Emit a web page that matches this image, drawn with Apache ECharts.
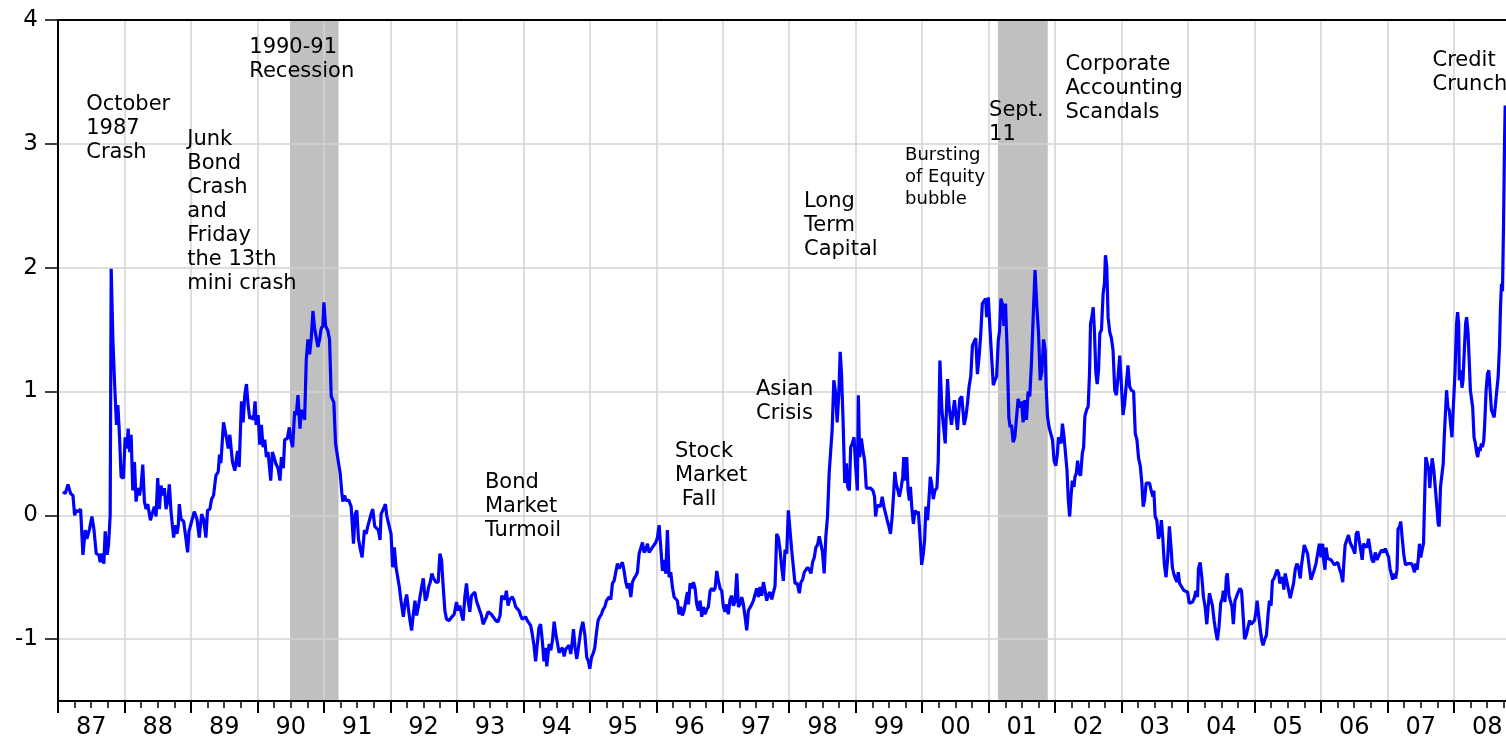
<!DOCTYPE html>
<html>
<head>
<meta charset="utf-8">
<script src="https://cdn.jsdelivr.net/npm/echarts@6/dist/echarts.min.js"></script>
<style>html,body{margin:0;padding:0;background:#fff;}#chart{width:1506px;height:740px;}</style>
</head>
<body>
<div id="chart"></div>
<script>
// Decimal-year dates of the readings
const years = [
1987.075,1987.110,1987.150,1987.190,1987.225,1987.250,1987.275,1987.310,1987.340,1987.375,1987.410,1987.435,1987.475,1987.510,1987.540,1987.575,1987.615,1987.635,1987.660,1987.690,1987.710,1987.740,1987.760,1987.785,1987.800,1987.825,1987.850,1987.880,1987.900,1987.920,1987.950,1987.985,
1988.010,1988.040,1988.055,1988.080,1988.100,1988.125,1988.150,1988.175,1988.200,1988.225,1988.250,1988.275,1988.300,1988.325,1988.350,1988.390,1988.415,1988.450,1988.475,1988.500,1988.525,1988.550,1988.575,1988.600,1988.625,1988.650,1988.675,1988.700,1988.740,1988.765,1988.790,1988.810,1988.825,1988.850,1988.890,1988.925,1988.950,1988.970,
1989.010,1989.050,1989.090,1989.125,1989.160,1989.190,1989.225,1989.250,1989.285,1989.310,1989.340,1989.375,1989.410,1989.430,1989.450,1989.490,1989.515,1989.540,1989.560,1989.585,1989.625,1989.660,1989.700,1989.725,1989.760,1989.785,1989.810,1989.835,1989.860,1989.885,1989.915,1989.940,1989.965,1989.980,
1990.010,1990.035,1990.060,1990.085,1990.110,1990.135,1990.160,1990.200,1990.225,1990.250,1990.275,1990.310,1990.340,1990.360,1990.390,1990.410,1990.450,1990.480,1990.500,1990.530,1990.560,1990.585,1990.610,1990.640,1990.660,1990.685,1990.710,1990.735,1990.760,1990.785,1990.810,1990.835,1990.860,1990.885,1990.910,1990.935,1990.960,1990.985,
1991.000,1991.025,1991.060,1991.085,1991.110,1991.135,1991.150,1991.175,1991.195,1991.225,1991.245,1991.270,1991.285,1991.310,1991.335,1991.375,1991.410,1991.445,1991.470,1991.495,1991.520,1991.550,1991.575,1991.610,1991.635,1991.660,1991.685,1991.710,1991.735,1991.765,1991.795,1991.820,1991.845,1991.860,1991.885,1991.910,1991.925,1991.945,1991.965,1991.985,
1992.010,1992.035,1992.060,1992.085,1992.110,1992.135,1992.160,1992.195,1992.225,1992.245,1992.275,1992.295,1992.320,1992.345,1992.370,1992.395,1992.420,1992.445,1992.470,1992.495,1992.525,1992.550,1992.575,1992.600,1992.625,1992.650,1992.685,1992.720,1992.745,1992.770,1992.795,1992.820,1992.845,1992.885,1992.925,1992.960,1992.995,
1993.020,1993.045,1993.070,1993.095,1993.120,1993.145,1993.170,1993.195,1993.220,1993.245,1993.270,1993.295,1993.320,1993.345,1993.370,1993.395,1993.420,1993.445,1993.470,1993.495,1993.520,1993.545,1993.585,1993.620,1993.650,1993.675,1993.700,1993.725,1993.745,1993.770,1993.795,1993.835,1993.860,1993.885,1993.910,1993.935,1993.960,1993.985,
1994.010,1994.035,1994.060,1994.085,1994.110,1994.135,1994.160,1994.185,1994.210,1994.235,1994.260,1994.285,1994.310,1994.335,1994.353,1994.388,1994.414,1994.439,1994.464,1994.489,1994.514,1994.539,1994.564,1994.589,1994.614,1994.639,1994.664,1994.689,1994.714,1994.739,1994.754,1994.779,1994.805,1994.830,1994.865,1994.895,1994.925,1994.955,1994.980,
1995.000,1995.025,1995.055,1995.075,1995.100,1995.125,1995.150,1995.175,1995.200,1995.226,1995.251,1995.276,1995.291,1995.316,1995.341,1995.366,1995.391,1995.416,1995.441,1995.466,1995.491,1995.516,1995.541,1995.566,1995.591,1995.617,1995.642,1995.667,1995.692,1995.717,1995.742,1995.767,1995.792,1995.817,1995.842,1995.867,1995.892,1995.917,1995.942,1995.967,1995.992,
1996.018,1996.043,1996.068,1996.093,1996.118,1996.143,1996.168,1996.193,1996.218,1996.243,1996.268,1996.293,1996.318,1996.343,1996.368,1996.393,1996.419,1996.444,1996.469,1996.484,1996.509,1996.534,1996.559,1996.584,1996.609,1996.634,1996.659,1996.684,1996.709,1996.734,1996.759,1996.784,1996.810,1996.835,1996.860,1996.885,1996.910,1996.935,1996.960,1996.985,
1997.010,1997.035,1997.060,1997.085,1997.110,1997.135,1997.160,1997.185,1997.211,1997.236,1997.261,1997.286,1997.311,1997.336,1997.361,1997.386,1997.411,1997.436,1997.461,1997.486,1997.511,1997.536,1997.561,1997.586,1997.612,1997.637,1997.662,1997.687,1997.712,1997.737,1997.762,1997.787,1997.812,1997.837,1997.862,1997.887,1997.912,1997.937,1997.962,1997.987,
1998.037,1998.062,1998.087,1998.122,1998.152,1998.177,1998.202,1998.227,1998.252,1998.277,1998.302,1998.327,1998.352,1998.377,1998.401,1998.426,1998.451,1998.476,1998.501,1998.526,1998.551,1998.576,1998.601,1998.626,1998.646,1998.671,1998.696,1998.721,1998.746,1998.767,1998.787,1998.810,1998.835,1998.860,1998.880,1998.905,1998.925,1998.950,1998.975,
1999.000,1999.025,1999.040,1999.060,1999.085,1999.110,1999.135,1999.160,1999.185,1999.219,1999.259,1999.284,1999.299,1999.324,1999.349,1999.374,1999.399,1999.424,1999.449,1999.474,1999.499,1999.524,1999.549,1999.574,1999.589,1999.608,1999.633,1999.658,1999.683,1999.708,1999.723,1999.748,1999.768,1999.788,1999.808,1999.823,1999.848,1999.868,1999.893,1999.918,1999.943,1999.968,1999.993,
2000.017,2000.037,2000.057,2000.082,2000.107,2000.122,2000.142,2000.167,2000.192,2000.222,2000.242,2000.267,2000.297,2000.322,2000.347,2000.382,2000.406,2000.441,2000.466,2000.486,2000.506,2000.531,2000.566,2000.596,2000.631,2000.656,2000.681,2000.706,2000.731,2000.756,2000.781,2000.806,2000.831,2000.856,2000.880,2000.905,2000.930,2000.955,2000.970,2000.995,
2001.020,2001.045,2001.070,2001.095,2001.120,2001.145,2001.165,2001.185,2001.209,2001.229,2001.254,2001.279,2001.304,2001.324,2001.344,2001.369,2001.394,2001.419,2001.444,2001.469,2001.494,2001.519,2001.544,2001.569,2001.594,2001.619,2001.643,2001.668,2001.698,2001.726,2001.751,2001.776,2001.801,2001.826,2001.851,2001.865,2001.885,2001.910,2001.940,2001.960,2001.985,
2002.010,2002.035,2002.050,2002.075,2002.090,2002.110,2002.135,2002.159,2002.179,2002.199,2002.219,2002.239,2002.259,2002.284,2002.299,2002.319,2002.339,2002.359,2002.384,2002.409,2002.429,2002.448,2002.473,2002.498,2002.518,2002.533,2002.553,2002.573,2002.593,2002.613,2002.633,2002.653,2002.673,2002.698,2002.722,2002.742,2002.757,2002.777,2002.797,2002.822,2002.847,2002.872,2002.897,2002.922,2002.947,2002.972,2002.997,
2003.021,2003.046,2003.071,2003.096,2003.121,2003.146,2003.181,2003.206,2003.231,2003.256,2003.281,2003.305,2003.325,2003.345,2003.370,2003.395,2003.420,2003.445,2003.470,2003.485,2003.505,2003.530,2003.555,2003.579,2003.599,2003.619,2003.644,2003.669,2003.694,2003.719,2003.744,2003.764,2003.784,2003.809,2003.834,2003.853,2003.873,2003.893,2003.918,2003.943,2003.968,2003.993,
2004.018,2004.043,2004.068,2004.093,2004.118,2004.142,2004.157,2004.182,2004.207,2004.232,2004.257,2004.282,2004.302,2004.322,2004.342,2004.367,2004.392,2004.417,2004.441,2004.466,2004.491,2004.516,2004.531,2004.556,2004.576,2004.591,2004.616,2004.641,2004.661,2004.681,2004.706,2004.730,2004.755,2004.780,2004.805,2004.830,2004.850,2004.875,2004.900,2004.925,2004.950,2004.975,
2005.000,2005.024,2005.039,2005.064,2005.089,2005.109,2005.129,2005.154,2005.179,2005.204,2005.224,2005.249,2005.269,2005.294,2005.319,2005.339,2005.364,2005.379,2005.421,2005.441,2005.461,2005.486,2005.511,2005.537,2005.562,2005.587,2005.612,2005.637,2005.662,2005.688,2005.703,2005.723,2005.748,2005.773,2005.798,2005.824,2005.849,2005.874,2005.899,2005.924,2005.950,2005.975,
2006.000,2006.025,2006.040,2006.060,2006.076,2006.101,2006.126,2006.151,2006.176,2006.202,2006.227,2006.252,2006.277,2006.302,2006.327,2006.343,2006.363,2006.388,2006.413,2006.438,2006.463,2006.489,2006.509,2006.529,2006.554,2006.579,2006.605,2006.620,2006.640,2006.665,2006.690,2006.715,2006.741,2006.766,2006.791,2006.816,2006.841,2006.866,2006.892,2006.917,2006.942,2006.967,2006.992,
2007.018,2007.038,2007.058,2007.078,2007.098,2007.123,2007.144,2007.159,2007.184,2007.199,2007.219,2007.244,2007.270,2007.290,2007.315,2007.340,2007.365,2007.385,2007.406,2007.426,2007.446,2007.466,2007.481,2007.501,2007.521,2007.542,2007.562,2007.577,2007.602,2007.622,2007.637,2007.652,2007.673,2007.698,2007.723,2007.743,2007.763,2007.778,2007.798,2007.819,2007.839,2007.854,2007.874,2007.889,2007.909,2007.929,2007.950,2007.970,2007.990,
2008.015,2008.040,2008.055,2008.071,2008.081,2008.101,2008.121,2008.136,2008.156,2008.176,2008.191,2008.212,2008.232,2008.247,2008.267,2008.282,2008.302,2008.322,2008.343,2008.358,2008.378,2008.393,2008.413,2008.428,2008.448,2008.463,2008.484,2008.504,2008.524,2008.544,2008.564,2008.584,2008.605,2008.620,2008.645,2008.665,2008.685,2008.700,2008.715,2008.730,2008.746,2008.761,2008.771
];
// Financial stress index readings
const stress = [
0.19,0.175,0.25,0.175,0.16,0.0,0.04,0.03,0.05,-0.32,-0.12,-0.19,-0.11,-0.01,-0.11,-0.31,-0.32,-0.38,-0.31,-0.39,-0.13,-0.32,-0.24,0.0,1.99,1.43,1.08,0.73,0.89,0.70,0.31,0.30,
0.63,0.54,0.70,0.51,0.65,0.20,0.43,0.11,0.22,0.16,0.23,0.41,0.11,0.05,0.09,-0.04,0.01,0.07,-0.01,0.30,0.05,0.24,0.16,0.22,0.05,0.11,0.25,0.03,-0.18,-0.08,-0.15,-0.08,0.09,-0.03,-0.05,-0.19,-0.30,-0.13,
-0.05,0.03,-0.03,-0.18,0.01,-0.03,-0.18,0.04,0.05,0.13,0.16,0.32,0.35,0.49,0.42,0.75,0.74,0.61,0.54,0.65,0.43,0.36,0.52,0.39,0.92,0.75,0.97,1.06,0.89,0.78,0.80,0.77,0.92,0.73,
0.81,0.57,0.73,0.55,0.61,0.47,0.51,0.28,0.51,0.47,0.42,0.38,0.28,0.47,0.38,0.61,0.62,0.71,0.62,0.55,0.84,0.81,0.97,0.70,0.85,0.82,0.77,1.26,1.42,1.30,1.43,1.65,1.51,1.50,1.36,1.42,1.51,1.53,
1.72,1.53,1.49,1.42,0.96,0.97,0.91,0.58,0.51,0.50,0.34,0.18,0.11,0.16,0.12,0.12,0.07,-0.23,0.01,0.04,-0.19,-0.28,-0.34,-0.12,-0.15,-0.09,-0.04,0.01,0.05,-0.09,-0.08,-0.12,-0.20,0.01,0.04,0.07,0.09,0.0,-0.05,-0.04,
-0.15,-0.42,-0.26,-0.42,-0.43,-0.58,-0.69,-0.82,-0.69,-0.64,-0.77,-0.85,-0.93,-0.80,-0.69,-0.81,-0.74,-0.73,-0.58,-0.51,-0.69,-0.66,-0.58,-0.54,-0.47,-0.51,-0.54,-0.54,-0.31,-0.36,-0.58,-0.77,-0.84,-0.85,-0.82,-0.80,-0.70,
-0.77,-0.73,-0.80,-0.85,-0.66,-0.55,-0.69,-0.78,-0.65,-0.65,-0.62,-0.69,-0.73,-0.72,-0.81,-0.88,-0.89,-0.82,-0.78,-0.77,-0.80,-0.82,-0.85,-0.86,-0.81,-0.65,-0.66,-0.68,-0.61,-0.73,-0.68,-0.66,-0.69,-0.74,-0.73,-0.77,-0.81,-0.84,
-0.84,-0.82,-0.85,-0.84,-0.89,-0.96,-1.05,-1.18,-1.04,-0.91,-0.88,-1.01,-1.18,-1.07,-1.22,-1.04,-1.09,-1.01,-0.86,-0.96,-0.97,-1.11,-1.12,-1.07,-1.14,-1.08,-1.09,-1.05,-1.12,-1.01,-0.92,-1.07,-1.16,-1.15,-0.93,-0.86,-0.96,-1.15,-1.18,
-1.24,-1.15,-1.11,-1.07,-0.95,-0.85,-0.82,-0.80,-0.76,-0.74,-0.69,-0.69,-0.66,-0.68,-0.55,-0.53,-0.46,-0.39,-0.43,-0.42,-0.38,-0.45,-0.54,-0.59,-0.55,-0.66,-0.54,-0.51,-0.49,-0.46,-0.31,-0.30,-0.22,-0.30,-0.28,-0.23,-0.30,-0.28,-0.26,-0.24,-0.22,
-0.18,-0.08,-0.26,-0.45,-0.36,-0.47,-0.12,-0.50,-0.46,-0.58,-0.66,-0.65,-0.69,-0.80,-0.74,-0.81,-0.77,-0.69,-0.62,-0.72,-0.55,-0.59,-0.54,-0.59,-0.72,-0.77,-0.69,-0.82,-0.74,-0.80,-0.76,-0.74,-0.61,-0.59,-0.61,-0.59,-0.45,-0.53,-0.59,-0.61,
-0.74,-0.78,-0.72,-0.80,-0.68,-0.65,-0.73,-0.70,-0.47,-0.74,-0.72,-0.66,-0.72,-0.82,-0.93,-0.77,-0.77,-0.72,-0.69,-0.68,-0.59,-0.66,-0.58,-0.65,-0.54,-0.61,-0.69,-0.64,-0.62,-0.68,-0.68,-0.57,-0.15,-0.18,-0.28,-0.42,-0.53,-0.28,-0.31,0.04,
-0.28,-0.27,-0.55,-0.55,-0.63,-0.54,-0.52,-0.46,-0.46,-0.42,-0.44,-0.47,-0.38,-0.34,-0.26,-0.24,-0.17,-0.23,-0.30,-0.47,-0.17,-0.01,0.34,0.34,0.69,1.09,1.00,0.75,0.98,1.32,1.14,0.77,0.26,0.42,0.23,0.20,0.55,0.58,0.63,
0.39,0.20,0.97,0.47,0.62,0.52,0.44,0.22,0.23,0.22,0.20,0.15,-0.01,0.08,0.07,0.07,0.15,0.07,0.08,-0.04,-0.09,-0.15,-0.01,0.20,0.35,0.26,0.26,0.15,0.22,0.31,0.47,0.28,0.47,0.20,0.12,0.23,0.04,-0.07,0.04,0.01,0.03,-0.17,-0.40,
-0.31,-0.20,0.07,-0.04,0.17,0.31,0.26,0.13,0.20,0.22,0.44,1.25,0.85,0.86,0.58,1.10,0.87,0.73,0.74,0.93,0.82,0.69,0.94,0.96,0.73,0.79,0.90,1.04,1.12,1.37,1.37,1.43,1.14,1.28,1.45,1.71,1.71,1.75,1.60,1.76,
1.51,1.28,1.05,1.09,1.12,1.41,1.49,1.75,1.70,1.53,1.71,1.33,0.79,0.71,0.73,0.59,0.63,0.63,0.94,0.87,0.92,0.75,0.93,0.77,1.00,0.96,1.22,1.57,1.98,1.68,1.47,1.09,1.16,1.42,1.33,1.04,0.80,0.71,0.70,0.61,0.44,
0.40,0.50,0.63,0.63,0.58,0.74,0.63,0.63,0.36,0.12,-0.01,0.15,0.28,0.23,0.31,0.34,0.44,0.34,0.32,0.50,0.55,0.80,0.85,0.88,1.15,1.55,1.60,1.68,1.47,1.15,1.06,1.17,1.47,1.50,1.79,1.87,2.10,2.01,1.60,1.48,1.43,1.33,1.01,0.97,1.12,1.29,1.06,
0.81,0.90,1.06,1.21,1.04,1.01,1.00,0.66,0.61,0.46,0.40,0.26,0.07,0.12,0.26,0.26,0.26,0.20,0.15,0.20,-0.01,-0.04,-0.19,-0.15,-0.04,-0.18,-0.40,-0.50,-0.34,-0.09,-0.26,-0.42,-0.47,-0.51,-0.54,-0.46,-0.55,-0.55,-0.59,-0.61,-0.60,-0.62,
-0.71,-0.71,-0.70,-0.67,-0.61,-0.66,-0.43,-0.38,-0.50,-0.66,-0.74,-0.88,-0.74,-0.63,-0.62,-0.73,-0.85,-0.94,-1.01,-0.90,-0.71,-0.67,-0.61,-0.70,-0.50,-0.47,-0.65,-0.66,-0.74,-0.88,-0.69,-0.70,-0.62,-0.59,-0.61,-0.82,-1.00,-0.97,-0.96,-0.85,-0.88,-0.88,
-0.85,-0.77,-0.69,-0.82,-0.93,-1.01,-1.05,-1.00,-0.97,-0.80,-0.69,-0.73,-0.53,-0.51,-0.50,-0.44,-0.47,-0.55,-0.50,-0.60,-0.47,-0.48,-0.60,-0.67,-0.66,-0.55,-0.44,-0.39,-0.42,-0.51,-0.42,-0.34,-0.24,-0.24,-0.31,-0.42,-0.52,-0.51,-0.44,-0.39,-0.31,-0.23,
-0.34,-0.23,-0.36,-0.44,-0.26,-0.35,-0.35,-0.36,-0.38,-0.40,-0.39,-0.38,-0.43,-0.47,-0.54,-0.39,-0.24,-0.23,-0.16,-0.22,-0.23,-0.28,-0.31,-0.15,-0.13,-0.22,-0.22,-0.36,-0.23,-0.24,-0.26,-0.19,-0.28,-0.36,-0.38,-0.30,-0.36,-0.35,-0.30,-0.28,-0.30,-0.27,-0.28,
-0.34,-0.43,-0.44,-0.52,-0.47,-0.51,-0.44,-0.11,-0.09,-0.05,-0.17,-0.31,-0.40,-0.40,-0.39,-0.40,-0.39,-0.42,-0.46,-0.39,-0.44,-0.34,-0.23,-0.34,-0.28,-0.23,0.20,0.47,0.46,0.36,0.22,0.34,0.46,0.36,0.20,0.07,-0.07,-0.09,0.23,0.24,0.42,0.63,0.63,1.01,0.87,0.85,0.85,0.63,0.87,
1.14,1.55,1.64,1.55,1.09,1.17,1.03,1.09,1.33,1.55,1.60,1.47,1.22,1.01,1.01,0.87,0.63,0.58,0.50,0.47,0.55,0.52,0.58,0.55,0.60,0.74,1.01,1.14,1.17,1.01,0.85,0.85,0.79,0.87,1.01,1.12,1.36,1.68,1.87,1.81,2.35,3.02,3.31
];
// Axis tick values and labels
const yearTicks = [1987,1988,1989,1990,1991,1992,1993,1994,1995,1996,1997,1998,1999,2000,2001,2002,2003,2004,2005,2006,2007,2008];
const yearLabels = ['87','88','89','90','91','92','93','94','95','96','97','98','99','00','01','02','03','04','05','06','07','08'];
const yTicks = [-1, 0, 1, 2, 3, 4];
const X_MIN = 1987, X_MAX = 2008.783, Y_MIN = -1.5, Y_MAX = 4;
// NBER recessions (start, end) in decimal years
const recessions = [[1990.49, 1991.22], [2001.14, 2001.89]];
// Event annotations: text and anchor (top-left corner) in data coordinates
const noteText = [
  'October\n1987\nCrash',
  'Junk\nBond\nCrash\nand\nFriday\nthe 13th\nmini crash',
  '1990-91\nRecession',
  'Bond\nMarket\nTurmoil',
  'Stock\nMarket\n Fall',
  'Asian\nCrisis',
  'Long\nTerm\nCapital',
  'Bursting\nof Equity\nbubble',
  'Sept.\n11',
  'Corporate\nAccounting\nScandals',
  'Credit\nCrunch'
];
const noteX = [1987.432, 1988.952, 1989.885, 1993.430, 1996.289, 1997.508, 1998.230, 1999.750, 2001.014, 2002.163, 2007.685];
const noteY = [3.413, 3.125, 3.867, 0.359, 0.610, 1.111, 2.623, 2.995, 3.359, 3.731, 3.763];
const noteSmall = [false,false,false,false,false,false,false,true,false,false,false];

const FONT = 'DejaVu Sans';
const chart = echarts.init(document.getElementById('chart'), null, {renderer: 'canvas'});

const quarterTicks = [];
yearTicks.forEach(y => [0.25, 0.5, 0.75].forEach(q => { if (y + q <= X_MAX) quarterTicks.push(y + q); }));
const lineData = years.map((x, i) => [x, stress[i]]);
const noteData = noteText.map((t, i) => ({
  value: [noteX[i], noteY[i]],
  label: noteSmall[i] ? {formatter: t, fontSize: 18, lineHeight: 22} : {formatter: t}
}));

chart.setOption({
  animation: false,
  backgroundColor: '#ffffff',
  grid: {left: 58, right: 0, top: 20, bottom: 39, containLabel: false},
  xAxis: [{
    type: 'value', min: X_MIN, max: X_MAX, interval: 1, z: 1, position: 'bottom',
    axisLine: {show: true, onZero: false, lineStyle: {color: '#000', width: 2}},
    axisTick: {show: true, customValues: yearTicks, length: 12, lineStyle: {color: '#000', width: 2}},
    axisLabel: {
      customValues: yearTicks.map(y => y + 0.5),
      formatter: v => yearLabels[Math.floor(v) - 1987],
      fontFamily: FONT, fontSize: 24, color: '#000', margin: 15
    },
    splitLine: {show: true, lineStyle: {color: '#d3d3d3', width: 1.5}}
  }, {
    type: 'value', min: X_MIN, max: X_MAX, position: 'top', z: 1,
    axisLine: {show: true, onZero: false, lineStyle: {color: '#000', width: 2}},
    axisTick: {show: false}, axisLabel: {show: false}, splitLine: {show: false}
  }, {
    type: 'value', min: X_MIN, max: X_MAX, position: 'bottom', z: 1,
    axisLine: {show: false, onZero: false},
    axisTick: {show: true, customValues: quarterTicks, length: 7, lineStyle: {color: '#000', width: 1.5}},
    axisLabel: {show: false}, splitLine: {show: false}
  }],
  yAxis: {
    type: 'value', min: Y_MIN, max: Y_MAX, splitNumber: 5, z: 1,
    axisLine: {show: true, onZero: false, lineStyle: {color: '#000', width: 2}},
    axisTick: {show: true, customValues: yTicks, length: 13, lineStyle: {color: '#000', width: 1.5}},
    axisLabel: {customValues: yTicks, fontFamily: FONT, fontSize: 23, color: '#000', margin: 20},
    splitLine: {show: true, lineStyle: {color: '#d3d3d3', width: 1.5}}
  },
  series: [{
    type: 'custom', z: 0, silent: true,
    data: recessions,
    encode: {x: [0, 1]},
    renderItem: (params, api) => {
      const a = api.coord([api.value(0), 0]);
      const b = api.coord([api.value(1), 0]);
      const cs = params.coordSys;
      return {type: 'rect', shape: {x: a[0], y: cs.y, width: b[0] - a[0], height: cs.height}, style: {fill: '#c0c0c0'}};
    }
  }, {
    type: 'line', z: 3, data: lineData, showSymbol: false, symbol: 'none', silent: true,
    lineStyle: {color: '#0000ff', width: 3.2}, clip: true
  }, {
    type: 'scatter', z: 4, data: noteData, symbolSize: 1, silent: true,
    itemStyle: {color: 'transparent', opacity: 1},
    label: {show: true, position: [0, 0], align: 'left', verticalAlign: 'top', opacity: 1,
      fontFamily: FONT, fontSize: 21, lineHeight: 24, color: '#000000'}
  }]
});
</script>
</body>
</html>
